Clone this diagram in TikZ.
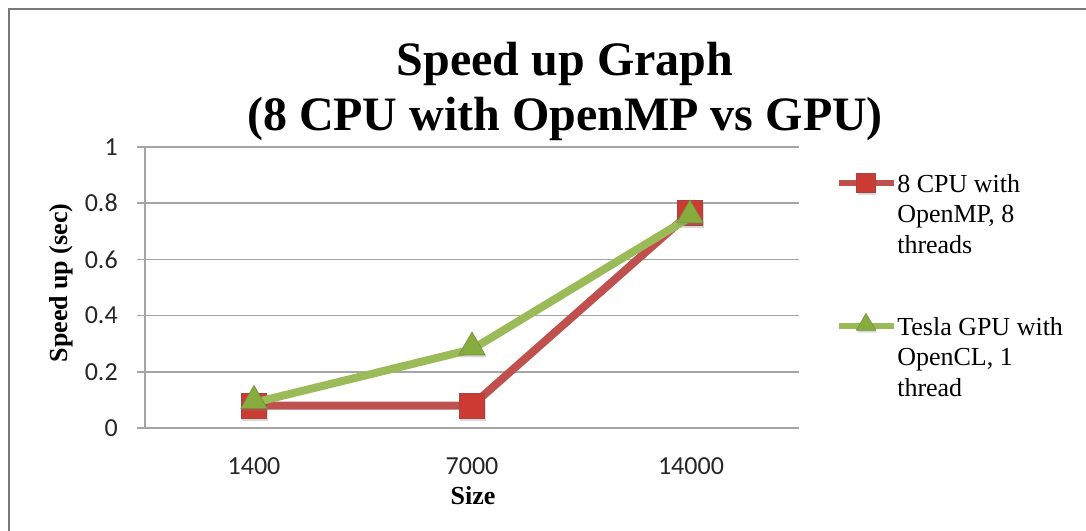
\documentclass[tikz,border=0pt]{standalone}
\usepackage{fontspec}
\setmainfont{Liberation Serif}
\newfontfamily\tickfont{Carlito}
\usetikzlibrary{shapes.geometric,shadows}

\definecolor{cpured}{RGB}{192,80,77}
\definecolor{cpufill}{RGB}{204,58,52}
\definecolor{gpugreen}{RGB}{155,187,89}
\definecolor{gpufill}{RGB}{134,172,62}
\definecolor{gridgray}{RGB}{165,165,165}
\definecolor{framegray}{RGB}{120,120,120}

\begin{document}
\begin{tikzpicture}[x=0.75pt,y=-0.75pt,
    gridline/.style={draw=gridgray,line width=1.1pt},
    cpuline/.style={draw=cpured,line width=6pt,line join=round},
    gpuline/.style={draw=gpugreen,line width=6pt,line join=round},
    cpumark/.style={rectangle,fill=cpufill,draw=cpured!85!black,line width=0.4pt,minimum size=19pt,inner sep=0pt,
      drop shadow={opacity=0.3,shadow xshift=0.8pt,shadow yshift=-1.8pt}},
    gpumark/.style={regular polygon,regular polygon sides=3,fill=gpufill,draw=gpugreen!75!black,line width=0.4pt,minimum size=23pt,inner sep=0pt,
      drop shadow={opacity=0.3,shadow xshift=0.8pt,shadow yshift=-1.8pt}},
    ticklabel/.style={font=\tickfont\fontsize{19.5}{21}\selectfont,text=black!85,inner sep=0pt},
    axistitle/.style={font=\bfseries\fontsize{19.5}{22}\selectfont,inner sep=0pt},
    legendtext/.style={font=\fontsize{19.5}{23}\selectfont,align=left,anchor=north west,inner sep=0pt}]
  \useasboundingbox (0,0) rectangle (1086,531);
  % chart frame
  \draw[framegray,line width=2pt] (9,531) -- (9,9) -- (1086,9);

  % title
  \node[font=\bfseries\fontsize{36}{41}\selectfont,anchor=base,inner sep=0pt] (title1) at (565,76) {Speed up Graph};
  \node[font=\bfseries\fontsize{36}{41}\selectfont,anchor=base,inner sep=0pt] (title2) at (565,131) {(8 CPU with OpenMP vs GPU)};

  % plot area, y in data units
  \begin{scope}[shift={(0,428)},y=210.75pt]
    \foreach \v/\lab [count=\i] in {0/0,0.2/0.2,0.4/0.4,0.6/0.6,0.8/0.8,1/1}{
      \draw[gridline] (137,\v) -- (799,\v);
      \node[ticklabel,anchor=east] (yl\i) at (118,\v) {\lab};
    }
    \draw[gridline] (145,0) -- (145,1);

    \coordinate (cpu1) at (254,0.08);
    \coordinate (cpu2) at (472,0.08);
    \coordinate (cpu3) at (690,0.765);
    \coordinate (gpu1) at (254,0.09);
    \coordinate (gpu2) at (472,0.28);
    \coordinate (gpu3) at (690,0.75);

    \draw[cpuline] (cpu1) -- (cpu2) -- (cpu3);
    \foreach \p in {cpu1,cpu2,cpu3}
      \node[cpumark] (m\p) at (\p) {};
    \draw[gpuline] (gpu1) -- (gpu2) -- (gpu3);
    \foreach \p in {gpu1,gpu2,gpu3}
      \node[gpumark,yshift=1.5pt] (m\p) at (\p) {};
  \end{scope}

  % axis labels
  \node[ticklabel] (xl1) at (254,466) {1400};
  \node[ticklabel] (xl2) at (472,466) {7000};
  \node[ticklabel] (xl3) at (691,466) {14000};
  \node[axistitle] (xtitle) at (473,496) {Size};
  \node[axistitle,rotate=90] (ytitle) at (61,283) {Speed up (sec)};

  % legend
  \coordinate (lcpua) at (839,183);
  \coordinate (lcpub) at (894,183);
  \coordinate (lgpua) at (839,326);
  \coordinate (lgpub) at (894,326);
  \draw[cpuline,line width=3.8pt] (lcpua) -- (lcpub);
  \node[cpumark,minimum size=14pt] (lcpu) at (866,183) {};
  \node[legendtext] (lcputext) at (897,174) {8 CPU with\\OpenMP, 8\\threads};
  \draw[gpuline,line width=3.8pt] (lgpua) -- (lgpub);
  \node[gpumark,minimum size=17pt,yshift=1pt] (lgpu) at (866,326) {};
  \node[legendtext] (lgputext) at (897,317) {Tesla GPU with\\OpenCL, 1\\thread};
\end{tikzpicture}
\end{document}
